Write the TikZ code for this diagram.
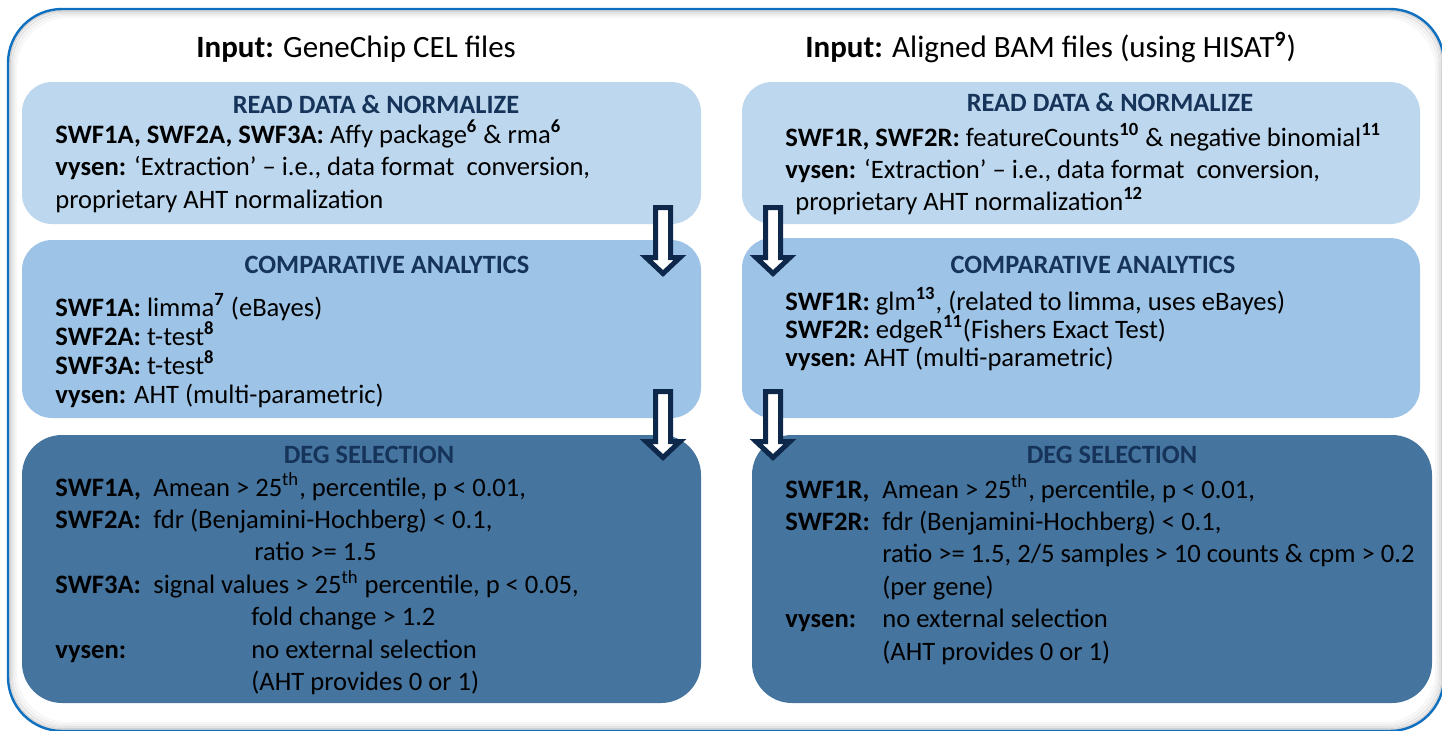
\documentclass[tikz,border=0pt]{standalone}
\usepackage{fontspec}
\setmainfont{Carlito}
\usepackage{xcolor}
\usepackage{tikz}
\usetikzlibrary{arrows.meta, positioning, calc}

\definecolor{boxone}{RGB}{189,215,238}
\definecolor{boxtwo}{RGB}{157,195,230}
\definecolor{boxthree}{RGB}{69,116,159}
\definecolor{headnavy}{RGB}{22,52,90}
\definecolor{arrownavy}{RGB}{13,40,75}
\definecolor{frameblue}{RGB}{16,112,192}

\newcommand{\refsup}[1]{\textsuperscript{\smash{\textbf{#1}}}}

\begin{document}
\begin{tikzpicture}[x=0.5pt, y=-0.5pt,
  panel/.style={anchor=north west, inner sep=0pt, outer sep=0pt, rounded corners=15pt},
  hdr/.style={anchor=base west, inner sep=0pt, font=\fontsize{15.5}{18}\selectfont},
  boxhead/.style={anchor=base, inner sep=0pt, text=headnavy, font=\fontsize{13.2}{16}\selectfont\bfseries},
  boxtext/.style={anchor=base west, inner sep=0pt, font=\fontsize{13.3}{#1}\selectfont},
  dnarrow/.pic={\draw[arrownavy, line width=2.5pt, fill=white, miter limit=10]
    (-7.5,0) -- (-7.5,50) -- (-17,50) -- (0,66) -- (17,50) -- (7.5,50) -- (7.5,0) -- cycle;}]
  \useasboundingbox (0,0) rectangle (1442,730);

  % outer frame with soft inner shadow
  \foreach \d/\op in {2/0.16, 4/0.10, 6/0.06, 8/0.03}
    \draw[black, opacity=\op, line width=1pt, rounded corners=26pt] (8+\d,9+\d) rectangle (1444-\d,731-\d);
  \draw[frameblue, line width=1.2pt, rounded corners=27pt] (8,9) rectangle (1444,731);

  % inputs
  \node[hdr] (inL) at (196,57) {\textbf{Input:} GeneChip CEL files};
  \node[hdr] (inR) at (805,57) {\textbf{Input:} Aligned BAM files (using HISAT\refsup{9})};

  % microarray column
  \node[panel, fill=boxone, minimum width=339.5pt, minimum height=71pt] (rdL) at (22,82) {};
  \node[panel, fill=boxtwo, minimum width=339.5pt, minimum height=89pt] (caL) at (22,240) {};
  \node[panel, fill=boxthree, rounded corners=20pt, minimum width=339.5pt, minimum height=134pt] (dgL) at (22,435) {};

  % RNA-seq column
  \node[panel, fill=boxone, minimum width=339pt, minimum height=71pt] (rdR) at (742,82) {};
  \node[panel, fill=boxtwo, minimum width=339pt, minimum height=90pt] (caR) at (742,238) {};
  \node[panel, fill=boxthree, rounded corners=20pt, minimum width=340pt, minimum height=134pt] (dgR) at (752,435) {};

  \node[boxhead] (rdLh) at (376,113) {READ DATA \& NORMALIZE};
  \node[boxhead] (caLh) at (387,273) {COMPARATIVE ANALYTICS};
  \node[boxhead] (dgLh) at (369,463) {DEG SELECTION};
  \node[boxhead] (rdRh) at (1110,111) {READ DATA \& NORMALIZE};
  \node[boxhead] (caRh) at (1093,273) {COMPARATIVE ANALYTICS};
  \node[boxhead] (dgRh) at (1112,463) {DEG SELECTION};

  \node[boxtext=16.25pt] (rdLt) at (55,143) {\begin{tabular}[t]{@{}l@{}}
    \textbf{SWF1A, SWF2A, SWF3A:} Affy package\refsup{6} \& rma\refsup{6}\\
    \textbf{vysen:} `Extraction' -- i.e., data format~ conversion,\\
    proprietary AHT normalization
  \end{tabular}};
  \node[boxtext=14.5pt] (caLt) at (55,316) {\begin{tabular}[t]{@{}l@{}}
    \textbf{SWF1A:} limma\refsup{7} (eBayes)\\
    \textbf{SWF2A:} t-test\refsup{8}\\
    \textbf{SWF3A:} t-test\refsup{8}\\
    \textbf{vysen:} AHT (multi-parametric)
  \end{tabular}};
  \node[boxtext=16.15pt] (dgLt) at (55,496) {\begin{tabular}[t]{@{}p{49pt}@{}l@{}}
    \textbf{SWF1A,} & Amean > 25\textsuperscript{th}, percentile, p < 0.01,\\
    \textbf{SWF2A:} & fdr (Benjamini-Hochberg) < 0.1,\\
                    & \hspace*{50.5pt}ratio >= 1.5\\
    \textbf{SWF3A:} & signal values > 25\textsuperscript{th} percentile, p < 0.05,\\
                    & \hspace*{49pt}fold change > 1.2\\
    \textbf{vysen:} & \hspace*{49pt}no external selection\\
                    & \hspace*{49pt}(AHT provides 0 or 1)
  \end{tabular}};

  \node[boxtext=16pt] (rdRt) at (785,146) {\begin{tabular}[t]{@{}l@{}}
    \textbf{SWF1R, SWF2R:} featureCounts\refsup{10} \& negative binomial\refsup{11}\\
    \textbf{vysen:} `Extraction' -- i.e., data format~ conversion,\\
    \hspace*{5pt}proprietary AHT normalization\refsup{12}
  \end{tabular}};
  \node[boxtext=14pt] (caRt) at (785,310) {\begin{tabular}[t]{@{}l@{}}
    \textbf{SWF1R:} glm\refsup{13}, (related to limma, uses eBayes)\\
    \textbf{SWF2R:} edgeR\refsup{11}(Fishers Exact Test)\\
    \textbf{vysen:} AHT (multi-parametric)
  \end{tabular}};
  \node[boxtext=16.2pt] (dgRt) at (785,498) {\begin{tabular}[t]{@{}p{48.5pt}@{}l@{}}
    \textbf{SWF1R,} & Amean > 25\textsuperscript{th}, percentile, p < 0.01,\\
    \textbf{SWF2R:} & fdr (Benjamini-Hochberg) < 0.1,\\
                    & ratio >= 1.5, 2/5 samples > 10 counts \& cpm > 0.2\\
                    & (per gene)\\
    \textbf{vysen:} & no external selection\\
                    & (AHT provides 0 or 1)
  \end{tabular}};

  % block arrows between stages
  \pic (aL1) at ($(rdL.south east)+(-38,-16.5)$) {dnarrow};
  \pic (aL2) at ($(caL.south east)+(-38,-26.5)$) {dnarrow};
  \pic (aR1) at ($(rdR.south west)+(31,-16.5)$) {dnarrow};
  \pic (aR2) at ($(caR.south west)+(31,-26.5)$) {dnarrow};
\end{tikzpicture}
\end{document}
